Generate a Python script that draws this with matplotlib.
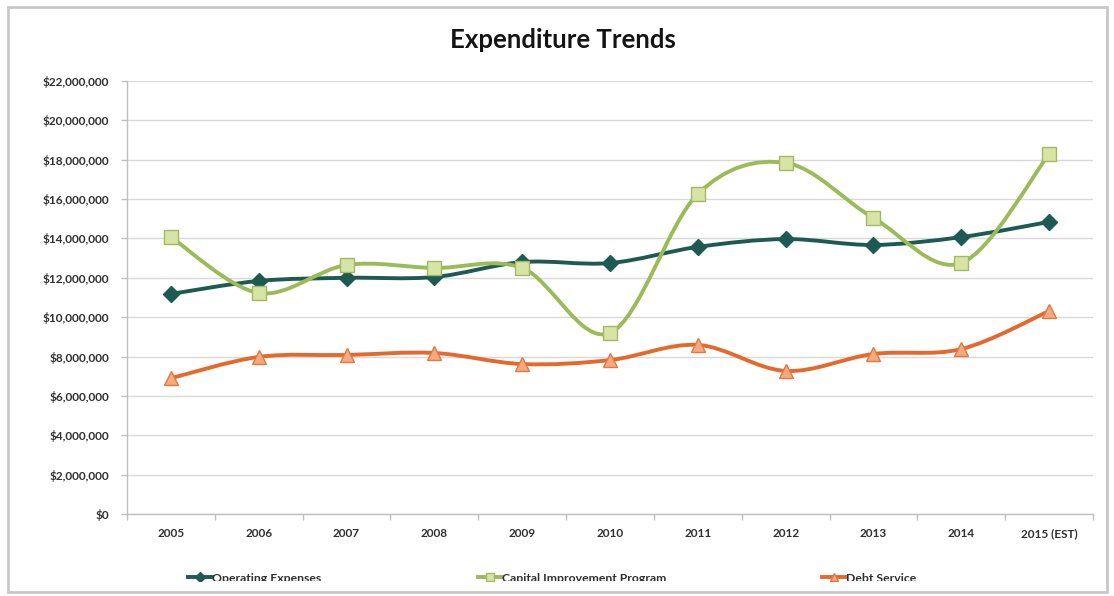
import matplotlib
matplotlib.use("Agg")
import matplotlib.pyplot as plt
from matplotlib.path import Path
from matplotlib.patches import PathPatch, Rectangle
from matplotlib.lines import Line2D
from matplotlib.ticker import FuncFormatter, FixedLocator
from matplotlib.transforms import Bbox

years = ["2005", "2006", "2007", "2008", "2009", "2010", "2011", "2012", "2013", "2014", "2015 (EST)"]
operating = [11.18, 11.84, 12.00, 12.04, 12.80, 12.75, 13.57, 13.97, 13.67, 14.07, 14.84]
capital = [14.07, 11.23, 12.65, 12.50, 12.50, 9.20, 16.26, 17.84, 15.04, 12.75, 18.29]
debt = [6.90, 7.98, 8.08, 8.18, 7.62, 7.82, 8.59, 7.27, 8.13, 8.38, 10.31]
series_names = ["Operating Expenses", "Capital Improvement Program", "Debt Service"]

plt.rcParams['font.family'] = ['Lato', 'DejaVu Sans']

W, H = 1114, 596
fig = plt.figure(figsize=(W / 100, H / 100), dpi=100)
fig.patch.set_facecolor("white")

ax = fig.add_axes([127 / W, 1 - 514 / H, (1093 - 127) / W, (514 - 81) / H])

def smooth_path(xs, ys):
    pts = list(zip(xs, ys))
    n = len(pts)
    verts = [pts[0]]
    codes = [Path.MOVETO]
    for i in range(n - 1):
        p0 = pts[i - 1] if i > 0 else pts[i]
        p1 = pts[i]
        p2 = pts[i + 1]
        p3 = pts[i + 2] if i + 2 < n else pts[i + 1]
        c1 = (p1[0] + (p2[0] - p0[0]) / 6, p1[1] + (p2[1] - p0[1]) / 6)
        c2 = (p2[0] - (p3[0] - p1[0]) / 6, p2[1] - (p3[1] - p1[1]) / 6)
        verts += [c1, c2, p2]
        codes += [Path.CURVE4] * 3
    return Path(verts, codes)

styles = [
    dict(color="#1D5B52", marker="D", ms=8, mfc="#1D5B52", mec="#1D5B52"),
    dict(color="#9BBB59", marker="s", ms=10.5, mfc="#D7E4A6", mec="#A3B862"),
    dict(color="#E5692C", marker="^", ms=10.5, mfc="#F5A97F", mec="#E07A45"),
]

xs = list(range(len(years)))
data = [operating, capital, debt]
for vals, st in zip(data, styles):
    yv = [v * 1e6 for v in vals]
    ax.add_patch(PathPatch(smooth_path(xs, yv), fill=False, edgecolor=st["color"],
                           lw=2.8, capstyle="round", joinstyle="round", zorder=3))
for vals, st in zip(data, styles):
    yv = [v * 1e6 for v in vals]
    ax.plot(xs, yv, ls="none", marker=st["marker"], ms=st["ms"], mfc=st["mfc"],
            mec=st["mec"], mew=1.0, zorder=4)

TXT = "#303030"
ax.set_xlim(-0.5, len(years) - 0.5)
ax.set_ylim(0, 22e6)
ax.set_yticks([i * 2e6 for i in range(12)])
ax.yaxis.set_major_formatter(FuncFormatter(lambda v, p: "${:,.0f}".format(v)))
ax.grid(axis="y", color="#D9D9D9", lw=1.0)
ax.set_axisbelow(True)

ax.xaxis.set_major_locator(FixedLocator([i - 0.5 for i in range(len(years) + 1)]))
ax.set_xticklabels([])
ax.xaxis.set_minor_locator(FixedLocator(xs))
ax.set_xticklabels(years, minor=True)
ax.tick_params(axis="x", which="major", length=4, color="#BFBFBF", width=1)
ax.tick_params(axis="x", which="minor", length=0, pad=10, labelsize=8.5, labelcolor=TXT)
for lbl in ax.get_xticklabels(minor=True):
    lbl.set_fontweight("bold")
ax.tick_params(axis="y", length=4, color="#BFBFBF", width=1, pad=9, labelsize=8.5, labelcolor=TXT)
for lbl in ax.get_yticklabels():
    lbl.set_fontweight("bold")

for s in ["top", "right"]:
    ax.spines[s].set_visible(False)
for s in ["left", "bottom"]:
    ax.spines[s].set_color("#BFBFBF")
    ax.spines[s].set_linewidth(1)

fig.text(563 / W, 1 - 40 / H, "Expenditure Trends", ha="center", va="center",
         fontsize=18.5, fontweight="bold", color="#141414")

# legend (partially clipped, as in the reference)
clip = Bbox.from_extents(0, H - 581, W, H)
leg_x = [188, 478, 822]
for name, st, lx in zip(series_names, styles, leg_x):
    ly = H - 577
    ln = Line2D([lx, lx + 24], [ly, ly], transform=None, color=st["color"], lw=2.8)
    mk = Line2D([lx + 12], [ly], transform=None, ls="none", marker=st["marker"],
                ms=st["ms"] * 0.6, mfc=st["mfc"], mec=st["mec"])
    for a in (ln, mk):
        a.set_clip_box(clip)
        a.set_clip_on(True)
        fig.add_artist(a)
    t = fig.text((lx + 24) / W, 1 - 579 / H, name, ha="left", va="center",
                 fontsize=8.8, fontweight="bold", color=TXT)
    t.set_clip_box(clip)
    t.set_clip_on(True)

fig.add_artist(Rectangle((8 / W, 1 - 592 / H), (1107 - 8) / W, (592 - 7) / H,
                         transform=fig.transFigure, fill=False, edgecolor="#C8C8C8", lw=2))

fig.savefig("out.png", dpi=100)
